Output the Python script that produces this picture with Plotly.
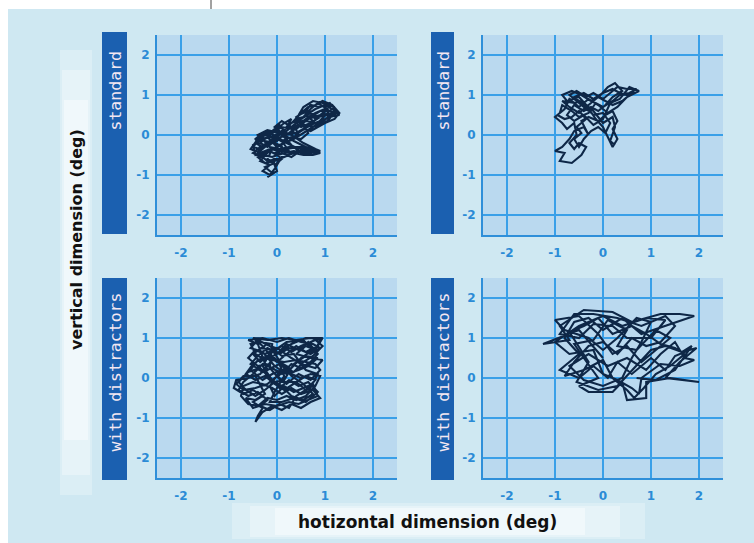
import plotly.graph_objects as go

W, H = 754, 543

# ---------------- data ----------------
tick_vals = [-2, -1, 0, 1, 2]
tick_text = ["-2", "-1", "0", "1", "2"]
axis_range = [-2.5, 2.5]
panel_labels = ["standard", "standard", "with distractors", "with distractors"]
x_title = "hotizontal dimension (deg)"
y_title = "vertical dimension (deg)"

# scan path, standard condition, observer A (top left)
path_std_a = [
    (0.0, 0.0), (0.15, 0.1), (0.05, 0.25), (-0.1, 0.1), (-0.3, 0.05), (-0.45, -0.1),
    (-0.35, -0.3), (-0.5, -0.45), (-0.3, -0.55), (-0.15, -0.4), (0.0, -0.5), (0.1, -0.3),
    (-0.05, -0.2), (-0.25, -0.15), (-0.4, 0.0), (-0.2, 0.12), (0.05, 0.05), (0.2, -0.1),
    (0.1, -0.25), (-0.1, -0.35), (-0.2, -0.6), (-0.05, -0.7), (-0.25, -0.8), (-0.1, -0.95),
    (-0.2, -1.05), (0.0, -0.9), (-0.05, -0.75), (0.1, -0.6), (-0.05, -0.45), (0.2, -0.35),
    (0.45, -0.3), (0.7, -0.35), (0.9, -0.45), (0.75, -0.5), (0.5, -0.45), (0.3, -0.25),
    (0.15, -0.05), (0.3, 0.1), (0.45, 0.0), (0.35, 0.25), (0.5, 0.35), (0.6, 0.2),
    (0.75, 0.35), (0.6, 0.5), (0.8, 0.65), (1.0, 0.75), (1.15, 0.65), (1.3, 0.5),
    (1.1, 0.45), (0.95, 0.55), (0.8, 0.4), (0.65, 0.6), (0.45, 0.5), (0.55, 0.7),
    (0.75, 0.85), (0.95, 0.8), (1.2, 0.7), (1.05, 0.55), (0.85, 0.3), (0.6, 0.35),
    (0.4, 0.15), (0.2, 0.2), (0.3, 0.4), (0.15, 0.3), (0.0, 0.15), (-0.15, 0.0),
    (-0.35, -0.2), (-0.2, -0.3), (0.0, -0.1), (0.25, 0.05), (0.45, 0.2), (0.7, 0.45),
    (0.9, 0.6), (1.1, 0.6), (1.25, 0.55), (1.0, 0.4), (0.7, 0.25), (0.5, 0.1),
    (0.25, -0.15), (0.05, -0.25), (-0.15, -0.15), (-0.4, -0.35), (-0.3, -0.5), (-0.1, -0.55),
    (0.15, -0.45), (0.35, -0.4), (0.6, -0.45), (0.8, -0.35), (0.55, -0.2), (0.3, 0.0),
    (0.1, 0.1), (-0.1, -0.05), (-0.3, -0.1), (-0.5, -0.25), (-0.45, -0.5), (-0.2, -0.45),
    (-0.35, -0.65), (-0.15, -0.75), (-0.3, -0.9), (-0.15, -1.0), (-0.05, -0.85), (0.05, -0.65),
    (-0.1, -0.55), (0.1, -0.45), (0.3, -0.55), (0.55, -0.35), (0.8, -0.45), (0.6, -0.3),
    (0.35, -0.15), (0.15, 0.0), (-0.05, 0.2), (0.1, 0.35), (0.3, 0.2), (0.5, 0.25),
    (0.4, 0.45), (0.6, 0.6), (0.7, 0.75), (0.9, 0.7), (1.1, 0.8), (1.25, 0.6),
    (1.05, 0.5), (0.85, 0.45), (0.7, 0.55), (0.5, 0.4), (0.3, 0.3), (0.1, 0.05),
    (-0.1, -0.1), (-0.3, -0.3), (-0.45, -0.2), (-0.25, 0.0), (-0.05, -0.05), (0.15, -0.2),
    (0.35, -0.1), (0.55, 0.05), (0.75, 0.2), (0.95, 0.35), (1.15, 0.5), (0.9, 0.5),
    (0.65, 0.4), (0.4, 0.3), (0.2, 0.1), (0.0, -0.15), (-0.2, -0.25), (-0.4, -0.45),
    (-0.2, -0.65), (0.0, -0.6), (0.2, -0.5), (0.45, -0.4), (0.7, -0.4), (0.5, -0.3),
    (0.25, -0.3), (0.05, -0.35), (-0.15, -0.3), (-0.35, -0.05), (-0.15, 0.05), (0.05, 0.1),
    (0.2, 0.0), (0.4, 0.05), (0.55, 0.15), (0.7, 0.1), (0.85, 0.2), (1.0, 0.3),
    (1.2, 0.4), (1.3, 0.55), (1.15, 0.75), (0.95, 0.85), (0.8, 0.75), (0.65, 0.7),
    (0.5, 0.55), (0.35, 0.35), (0.5, 0.2), (0.7, 0.3), (0.9, 0.45), (1.05, 0.65),
    (0.85, 0.8), (0.7, 0.65), (0.55, 0.45), (0.4, 0.4), (0.25, 0.25), (0.05, 0.0),
    (-0.15, -0.2), (-0.35, -0.35), (-0.5, -0.3), (-0.4, -0.15), (-0.2, -0.05), (0.0, -0.3),
    (-0.2, -0.4), (-0.4, -0.55), (-0.25, -0.7), (-0.05, -0.65), (0.15, -0.55), (0.35, -0.45),
    (0.55, -0.5), (0.75, -0.45), (0.9, -0.4), (0.7, -0.3), (0.45, -0.35), (0.2, -0.2),
    (0.0, -0.05), (-0.2, 0.1), (-0.4, -0.1), (-0.55, -0.35), (-0.35, -0.45), (-0.15, -0.35),
    (0.05, -0.4), (0.25, -0.4), (0.1, -0.15), (0.3, -0.05), (0.5, -0.1), (0.65, 0.05),
    (0.5, 0.3), (0.65, 0.45), (0.8, 0.55), (1.0, 0.65), (1.2, 0.55), (1.05, 0.35),
    (0.8, 0.2), (0.55, 0.25), (0.3, 0.15), (0.1, 0.2), (-0.1, 0.05),
]

# scan path, standard condition, observer B (top right)
path_std_b = [
    (-0.3, 0.6), (-0.5, 0.8), (-0.7, 1.0), (-0.55, 1.1), (-0.35, 0.95), (-0.2, 1.05),
    (0.0, 0.9), (0.15, 1.05), (0.3, 1.2), (0.5, 1.15), (0.7, 1.15), (0.55, 1.05),
    (0.35, 1.0), (0.2, 0.85), (0.0, 0.7), (-0.15, 0.8), (-0.3, 0.55), (-0.5, 0.45),
    (-0.65, 0.6), (-0.85, 0.75), (-0.9, 0.55), (-1.0, 0.45), (-0.85, 0.3), (-0.75, 0.15),
    (-0.6, 0.3), (-0.55, 0.0), (-0.7, -0.2), (-0.6, -0.35), (-0.5, -0.2), (-0.35, -0.3),
    (-0.45, -0.5), (-0.65, -0.7), (-0.9, -0.65), (-0.8, -0.45), (-1.0, -0.4), (-0.85, -0.3),
    (-0.7, -0.1), (-0.6, 0.1), (-0.4, 0.2), (-0.3, 0.0), (-0.45, 0.35), (-0.3, 0.45),
    (-0.1, 0.35), (0.05, 0.5), (0.2, 0.6), (0.3, 0.35), (0.2, 0.15), (0.3, -0.1),
    (0.2, -0.3), (0.1, -0.05), (0.0, 0.2), (-0.15, 0.4), (-0.35, 0.75), (-0.5, 0.95),
    (-0.75, 0.85), (-0.85, 1.0), (-0.65, 1.1), (-0.45, 1.0), (-0.25, 0.85), (-0.05, 1.0),
    (0.1, 1.2), (0.25, 1.3), (0.4, 1.1), (0.2, 0.95), (0.05, 0.75), (-0.1, 0.6),
    (-0.25, 0.7), (-0.4, 0.6), (-0.6, 0.75), (-0.75, 0.5), (-0.6, 0.35), (-0.4, 0.5),
    (-0.2, 0.25), (0.0, 0.4), (0.15, 0.8), (0.35, 0.9), (0.55, 1.2), (0.75, 1.1),
    (0.5, 0.95), (0.3, 0.7), (0.1, 0.55), (-0.1, 0.75), (-0.3, 0.9), (-0.5, 0.7),
    (-0.7, 0.9), (-0.8, 0.65), (-0.95, 0.5), (-0.8, 0.4), (-0.65, 0.45), (-0.5, 0.6),
    (-0.35, 0.4), (-0.55, 0.2), (-0.45, 0.05), (-0.6, -0.1), (-0.5, -0.3), (-0.4, -0.1),
    (-0.25, 0.1), (-0.1, 0.2), (0.05, 0.05), (0.15, 0.3), (0.0, 0.55), (-0.2, 0.5),
    (-0.4, 0.75), (-0.6, 0.95), (-0.4, 1.05), (-0.2, 0.9), (0.0, 1.05), (0.2, 1.15),
    (0.35, 1.05), (0.5, 1.0), (0.65, 1.1), (0.4, 0.85), (0.2, 0.75), (0.05, 0.85),
    (-0.1, 0.95), (-0.3, 0.75), (-0.5, 0.55), (-0.7, 0.7), (-0.85, 0.85), (-0.6, 0.8),
    (-0.45, 0.85), (-0.2, 0.6), (0.0, 0.3), (0.2, 0.45), (0.25, 0.2), (0.15, -0.15),
    (0.25, -0.25),
]

# scan path, with distractors, observer A (bottom left)
path_dis_a = [
    (0.0, 0.0), (0.2, 0.3), (-0.1, 0.5), (-0.3, 0.8), (-0.5, 1.0), (-0.2, 0.95),
    (0.1, 1.0), (0.4, 0.95), (0.7, 1.0), (0.9, 0.95), (0.8, 0.7), (0.6, 0.8),
    (0.4, 0.6), (0.7, 0.5), (0.95, 0.45), (0.8, 0.25), (0.5, 0.35), (0.3, 0.5),
    (0.0, 0.75), (-0.25, 0.6), (-0.45, 0.7), (-0.6, 0.5), (-0.4, 0.3), (-0.2, 0.35),
    (-0.35, 0.1), (-0.6, 0.0), (-0.85, -0.05), (-0.9, -0.25), (-0.7, -0.4), (-0.5, -0.3),
    (-0.3, -0.45), (-0.5, -0.6), (-0.3, -0.75), (-0.4, -0.95), (-0.45, -1.1), (-0.3, -0.85),
    (-0.1, -0.7), (0.1, -0.8), (0.3, -0.65), (0.5, -0.75), (0.7, -0.6), (0.9, -0.5),
    (0.75, -0.3), (0.5, -0.4), (0.3, -0.25), (0.1, -0.4), (-0.1, -0.25), (-0.3, -0.15),
    (-0.5, -0.1), (-0.7, -0.2), (-0.75, -0.45), (-0.6, -0.65), (-0.4, -0.7), (-0.2, -0.5),
    (0.0, -0.55), (0.2, -0.45), (0.4, -0.55), (0.6, -0.45), (0.8, -0.2), (0.9, 0.05),
    (0.7, 0.1), (0.5, 0.0), (0.3, 0.1), (0.1, 0.2), (-0.1, 0.1), (-0.3, -0.05),
    (-0.55, 0.2), (-0.4, 0.45), (-0.2, 0.55), (0.0, 0.4), (0.2, 0.6), (0.4, 0.8),
    (0.6, 0.65), (0.85, 0.8), (0.95, 1.0), (0.6, 1.0), (0.3, 0.85), (0.1, 0.7),
    (-0.15, 0.8), (-0.4, 0.95), (-0.55, 0.75), (-0.3, 0.65), (-0.05, 0.3), (0.2, 0.1),
    (0.45, 0.2), (0.65, 0.3), (0.85, 0.5), (0.6, 0.55), (0.35, 0.35), (0.15, -0.05),
    (-0.05, -0.1), (-0.25, -0.3), (-0.45, -0.45), (-0.65, -0.3), (-0.8, -0.1), (-0.6, 0.15),
    (-0.35, 0.25), (-0.15, 0.0), (0.05, -0.25), (0.25, -0.05), (0.45, -0.2), (0.65, -0.1),
    (0.85, -0.35), (0.6, -0.6), (0.35, -0.5), (0.1, -0.6), (-0.15, -0.6), (-0.05, -0.35),
    (0.15, 0.05), (0.05, 0.35), (-0.2, 0.2), (-0.4, 0.85), (-0.6, 0.95), (-0.3, 1.0),
    (0.0, 0.9), (0.25, 1.0), (0.5, 0.9), (0.75, 0.85), (0.9, 0.75), (0.7, 0.6),
    (0.5, 0.7), (0.25, 0.75), (0.05, 0.6), (-0.2, 0.75), (-0.4, 0.55), (-0.55, 0.35),
    (-0.3, 0.15), (-0.1, 0.45), (0.15, 0.4), (0.4, 0.45), (0.6, 0.4), (0.8, 0.35),
    (0.9, 0.2), (0.7, -0.05), (0.45, 0.1), (0.2, -0.15), (0.0, 0.05), (-0.2, -0.15),
    (-0.45, -0.25), (-0.7, -0.3), (-0.85, -0.15), (-0.7, 0.05), (-0.45, 0.05), (-0.25, -0.4),
    (-0.45, -0.55), (-0.65, -0.5), (-0.5, -0.75), (-0.25, -0.65), (0.0, -0.7), (0.25, -0.6),
    (0.45, -0.65), (0.65, -0.55), (0.85, -0.45), (0.75, -0.15), (0.55, -0.25), (0.35, -0.35),
    (0.15, -0.2), (-0.05, -0.45), (-0.15, -0.2), (0.05, 0.15), (0.3, 0.25), (0.5, 0.5),
    (0.75, 0.7), (0.55, 0.95), (0.2, 0.9), (-0.1, 0.65), (-0.35, 0.4), (-0.5, 0.6),
    (-0.2, 0.85), (0.1, 0.55), (0.35, 0.6), (0.6, 0.2), (0.85, 0.1), (0.65, -0.35),
    (0.4, -0.1), (0.1, -0.1), (-0.15, 0.25), (-0.1, 0.85), (-0.35, 0.9), (-0.55, 0.85),
    (-0.45, 0.6), (-0.25, 0.45), (0.0, 0.6), (0.2, 0.85), (0.45, 0.7), (0.65, 0.9),
    (0.85, 0.6), (0.7, 0.4), (0.5, 0.25), (0.3, 0.35), (0.1, 0.1), (-0.1, 0.25),
    (-0.3, 0.35), (-0.5, 0.1), (-0.7, -0.1), (-0.8, -0.3), (-0.6, -0.45), (-0.4, -0.35),
    (-0.2, -0.55), (-0.35, -0.7), (-0.15, -0.8), (0.05, -0.65), (0.25, -0.75), (0.4, -0.45),
    (0.6, -0.3), (0.8, -0.05), (0.6, 0.05), (0.35, -0.15), (0.15, -0.3), (-0.05, -0.15),
    (-0.25, 0.05), (-0.45, -0.05), (-0.65, 0.1), (-0.5, 0.35), (-0.3, 0.5), (-0.05, 0.5),
    (0.15, 0.25), (0.35, 0.15), (0.55, 0.4), (0.75, 0.55), (0.95, 0.8), (0.8, 0.95),
    (0.5, 0.8), (0.3, 0.65), (0.1, 0.8), (-0.15, 0.6), (-0.3, 0.3), (-0.1, -0.05),
    (0.1, -0.2), (0.3, -0.45), (0.55, -0.55), (0.75, -0.4), (0.55, -0.15), (0.3, 0.05),
    (0.1, 0.35), (-0.1, 0.7), (-0.35, 0.75),
]

# scan path, with distractors, observer B (bottom right)
path_dis_b = [
    (0.0, 0.5), (-0.5, 1.2), (-1.25, 0.85), (-0.7, 0.95), (-0.9, 1.3), (-0.4, 1.7),
    (0.2, 1.65), (0.6, 1.4), (1.2, 1.6), (1.6, 1.6), (1.9, 1.55), (1.3, 1.3),
    (0.8, 1.1), (0.4, 1.5), (0.0, 1.2), (-0.3, 1.5), (-0.6, 1.4), (-0.8, 1.0),
    (-0.5, 0.6), (-0.9, 0.2), (-0.5, 0.0), (-0.2, 0.3), (0.1, 0.0), (0.3, 0.4),
    (0.6, 0.1), (1.0, 0.5), (1.3, 0.2), (1.5, 0.55), (1.8, 0.7), (1.95, 0.75),
    (1.6, 0.4), (1.3, 0.0), (1.6, -0.05), (2.0, -0.1), (1.4, 0.0), (0.9, -0.1),
    (0.9, -0.5), (0.5, -0.55), (0.4, -0.1), (0.2, -0.35), (-0.3, -0.35), (-0.5, -0.2),
    (-0.1, 0.0), (-0.4, 0.5), (-0.6, 0.85), (-0.2, 0.95), (0.1, 1.45), (0.5, 1.2),
    (0.3, 0.8), (0.7, 0.7), (1.1, 1.2), (1.4, 1.0), (1.1, 0.7), (0.8, 0.4),
    (0.5, 0.8), (0.2, 0.6), (-0.1, 1.1), (-0.5, 1.55), (-1.0, 1.45), (-0.8, 1.2),
    (-0.3, 1.0), (0.0, 0.7), (0.3, 1.0), (0.7, 1.5), (1.0, 1.4), (0.8, 0.9),
    (0.6, 0.5), (0.4, 0.0), (0.0, -0.2), (-0.4, -0.05), (-0.7, 0.3), (-0.3, 0.6),
    (0.1, 0.3), (0.5, 0.5), (0.9, 0.2), (1.2, 0.6), (1.5, 0.9), (1.7, 0.5),
    (1.9, 0.45), (1.6, 0.3), (1.2, 0.35), (0.8, 0.0), (0.75, -0.4), (0.6, -0.25),
    (0.3, -0.05), (0.0, 0.1), (-0.2, 0.7), (-0.7, 0.6), (-1.0, 0.9), (-0.5, 1.3),
    (0.0, 1.55), (0.4, 1.3), (0.9, 1.5), (1.3, 1.45), (1.0, 1.0), (0.5, 1.0),
    (0.2, 1.3), (-0.2, 1.35), (-0.5, 1.0), (-0.9, 1.1), (-0.6, 1.6), (-0.2, 1.6),
    (0.3, 1.5), (0.8, 1.3), (1.3, 1.55), (1.5, 1.3), (1.2, 0.9), (0.9, 0.8),
    (0.6, 1.0), (0.3, 0.6), (0.0, 0.9), (-0.3, 0.8), (-0.6, 0.4), (-0.8, 0.05),
    (-0.4, 0.2), (0.0, 0.45), (0.2, 0.0), (0.5, -0.3), (0.65, -0.5), (0.85, -0.25),
    (1.1, 0.1), (1.4, 0.3), (1.7, 0.6), (1.5, 0.75), (1.2, 0.85), (0.9, 1.1),
    (0.6, 1.3), (0.2, 1.1), (-0.1, 1.5), (-0.4, 1.3), (-0.7, 1.15), (-0.3, 0.4),
    (-0.55, -0.1), (-0.1, -0.3), (0.3, -0.2), (0.7, 0.3), (1.0, 0.7), (1.3, 0.8),
    (1.65, 0.65), (1.85, 0.8), (1.5, 0.2), (1.1, -0.05), (0.7, 0.0),
]

paths = [path_std_a, path_std_b, path_dis_a, path_dis_b]

# ---------------- styling / layout ----------------
BG = "#cfe8f2"
PLOT_BG = "#bad9ef"
GRID = "#3aa0e8"
AXLINE = "#2f8fd9"
TICK = "#2b8bd6"
STRIP = "#1b60b0"
TRACE = "#0e2747"

# panel boxes in pixels: (left, right, top, bottom)
boxes = [(157, 397, 35, 235), (483, 723, 35, 235),
         (157, 397, 278, 478), (483, 723, 278, 478)]
strips = [(102, 127, 32, 234), (431, 454, 32, 234),
          (102, 127, 278, 480), (431, 454, 278, 480)]
label_y = [91, 91, 372, 372]


def px(x):
    return x / W


def py(y):
    return 1 - y / H


def rect(x0, x1, y0, y1, color, opacity=1.0):
    return dict(type="rect", xref="paper", yref="paper", x0=px(x0), x1=px(x1),
                y0=py(y1), y1=py(y0), fillcolor=color, opacity=opacity,
                line=dict(width=0), layer="below")


fig = go.Figure()
layout = {}
for i, (path, (l, r, t, b)) in enumerate(zip(paths, boxes)):
    n = "" if i == 0 else str(i + 1)
    xs = [p[0] for p in path]
    ys = [p[1] for p in path]
    fig.add_trace(go.Scatter(
        x=xs, y=ys, mode="lines", xaxis="x" + n, yaxis="y" + n,
        line=dict(color=TRACE, width=2.1), showlegend=False, hoverinfo="skip",
    ))
    common = dict(
        range=axis_range, tickvals=tick_vals, ticktext=tick_text,
        showgrid=True, gridcolor=GRID, gridwidth=1.5,
        zeroline=True, zerolinecolor=GRID, zerolinewidth=2,
        showline=True, linecolor=AXLINE, linewidth=2, mirror=False,
        ticks="", tickfont=dict(family="DejaVu Sans", size=12, color=TICK, weight="bold"),
        fixedrange=True,
    )
    layout["xaxis" + n] = dict(common, domain=[px(l), px(r)], anchor="y" + n,
                               ticklabelstandoff=6)
    layout["yaxis" + n] = dict(common, domain=[py(b), py(t)], anchor="x" + n,
                               ticklabelstandoff=3)

shapes = []
# page background
shapes.append(rect(8, W, 9, H, BG))
# plot area backgrounds
for (l, r, t, b) in boxes:
    shapes.append(rect(l, r, t, b, PLOT_BG))
# soft white glow behind the axis titles
shapes.append(rect(60, 92, 50, 495, "white", 0.25))
shapes.append(rect(62, 90, 70, 475, "white", 0.3))
shapes.append(rect(64, 88, 100, 440, "white", 0.4))
shapes.append(rect(232, 645, 503, 539, "white", 0.25))
shapes.append(rect(250, 620, 506, 537, "white", 0.3))
shapes.append(rect(275, 585, 508, 535, "white", 0.4))
# small mark at the top
shapes.append(dict(type="line", xref="paper", yref="paper", x0=px(211), x1=px(211), y0=py(9), y1=1,
                   line=dict(color="#444444", width=1)))
# panel label strips
for (l, r, t, b) in strips:
    shapes.append(rect(l, r, t, b, STRIP))

annotations = []
for lab, (l, r, t, b), cy in zip(panel_labels, strips, label_y):
    annotations.append(dict(
        text=lab, xref="paper", yref="paper", x=px((l + r) / 2), y=py(cy),
        xanchor="center", yanchor="middle", textangle=-90, showarrow=False,
        font=dict(family="DejaVu Sans Mono", size=16.5, color="#f4e8f2"),
    ))
annotations.append(dict(
    text=x_title, xref="paper", yref="paper", x=px(428), y=py(522),
    xanchor="center", yanchor="middle", showarrow=False,
    font=dict(family="DejaVu Sans", size=17, color="#111111", weight="bold"),
))
annotations.append(dict(
    text=y_title, xref="paper", yref="paper", x=px(76), y=py(240),
    xanchor="center", yanchor="middle", textangle=-90, showarrow=False,
    font=dict(family="DejaVu Sans", size=16, color="#111111", weight="bold"),
))

fig.update_layout(
    width=W, height=H, margin=dict(l=0, r=0, t=0, b=0),
    paper_bgcolor="white", plot_bgcolor=PLOT_BG,
    shapes=shapes, annotations=annotations, showlegend=False,
    **layout,
)

fig.write_html("out.html", config={"displayModeBar": False},
               post_script="document.body.style.margin='0px';")
